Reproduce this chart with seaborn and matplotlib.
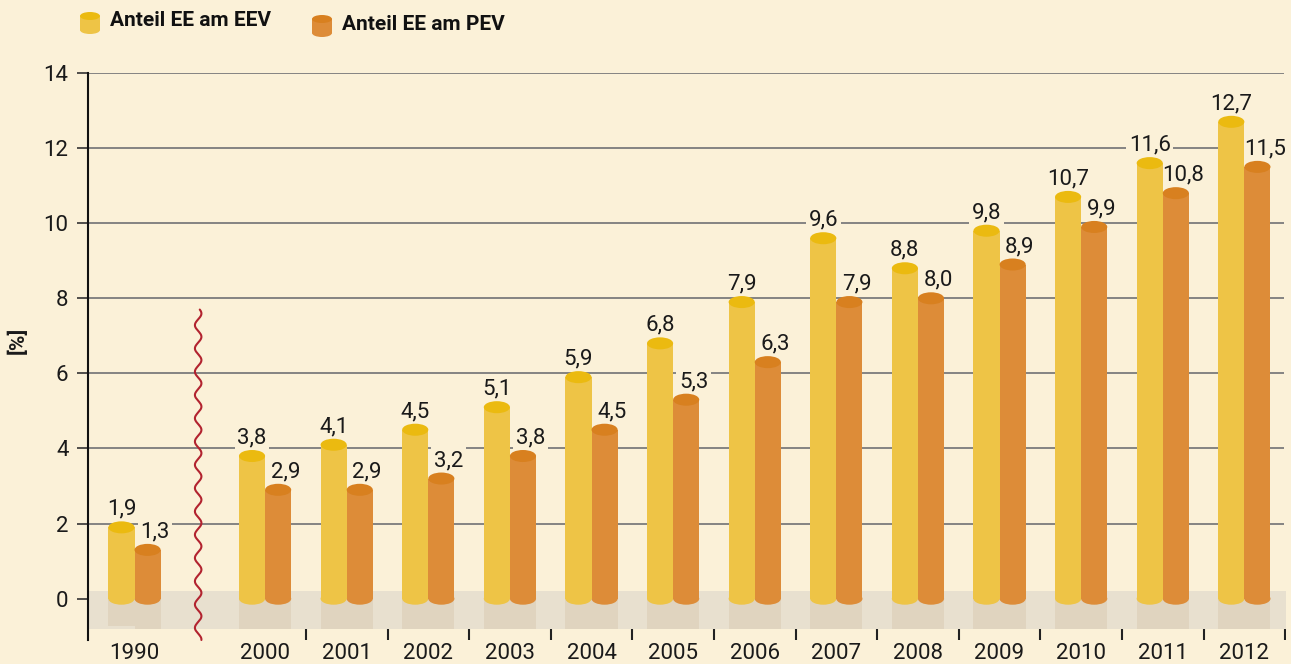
import numpy as np
import pandas as pd
import matplotlib.pyplot as plt
from matplotlib.patches import Ellipse, Rectangle
import seaborn as sns

# data
years = ["1990", "2000", "2001", "2002", "2003", "2004", "2005", "2006",
         "2007", "2008", "2009", "2010", "2011", "2012"]
anteil_eev = [1.9, 3.8, 4.1, 4.5, 5.1, 5.9, 6.8, 7.9, 9.6, 8.8, 9.8, 10.7, 11.6, 12.7]
anteil_pev = [1.3, 2.9, 2.9, 3.2, 3.8, 4.5, 5.3, 6.3, 7.9, 8.0, 8.9, 9.9, 10.8, 11.5]
series = ["Anteil EE am EEV", "Anteil EE am PEV"]

# colours
bg = "#FBF1D8"
band = "#E8E0CF"
shadow = "#E0D4BF"
body_cols = ["#EEC446", "#DD8C38"]
top_cols = ["#EBBA10", "#D8801F"]

# 1990 sits left of the axis break, the rest are one slot apart
pos = [-1.6 if y == "1990" else int(y) - 2000 for y in years]

df = pd.DataFrame({
    "pos": pos * 2,
    "wert": anteil_eev + anteil_pev,
    "reihe": [series[0]] * len(years) + [series[1]] * len(years),
})

sns.set_theme(style="white")
plt.rcParams["font.family"] = ["DejaVu Sans Condensed", "Roboto", "DejaVu Sans"]

fig = plt.figure(figsize=(12.91, 6.64), dpi=100, facecolor=bg)
ax = fig.add_axes([88 / 1291, 24 / 664, (1286 - 88) / 1291, (640 - 73) / 664])
ax.set_facecolor(bg)

x0, x1 = -2.17, 12.51
y0, y1 = -1.1, 14

sns.barplot(data=df, x="pos", y="wert", hue="reihe", native_scale=True,
            palette=body_cols, saturation=1, width=0.64, legend=False,
            errorbar=None, linewidth=0, ax=ax, zorder=3)

ax.set_xlim(x0, x1)
ax.set_ylim(y0, y1)

# grey floor band
ax.add_patch(Rectangle((x0, -0.8), x1 - x0, 1.0, color=band, zorder=1, lw=0))

# grid lines
ax.hlines(range(2, 15, 2), x0, x1 - 0.02, color="#7b7b7b", lw=1.3, zorder=0.5)

# turn the flat bars into cylinders
eh = 0.32
for i, cont in enumerate(ax.containers):
    for rect in cont:
        x = rect.get_x()
        w = rect.get_width()
        h = rect.get_height()
        cx = x + w / 2
        bottom = -0.72 if (i == 0 and cx < -1) else -0.8
        ax.add_patch(Rectangle((x, bottom), w, 0.2 - bottom, color=shadow, zorder=1.5, lw=0))
        ax.add_patch(Ellipse((cx, 0), w, eh, color=body_cols[i], zorder=2.9, lw=0))
        ax.add_patch(Ellipse((cx, h), w, eh, color=top_cols[i], zorder=4, lw=0))
        tx = cx + (0.09 if i == 1 else 0)
        lab = f"{h:.1f}".replace(".", ",")
        # background patch only hides the grid line, text sits on top
        ax.text(tx, h + 0.2, lab, ha="center", va="bottom", fontsize=16,
                color=bg, zorder=0.8,
                bbox=dict(facecolor=bg, edgecolor="none", pad=2))
        ax.text(tx, h + 0.2, lab, ha="center", va="bottom", fontsize=16,
                color="#1a1a1a", zorder=6)

# axis break
wy = np.linspace(y0, 7.7, 600)
ax.plot(-0.82 + 0.04 * np.sin(wy / 0.62 * 2 * np.pi), wy, color="#B2232F",
        lw=1.5, zorder=5, clip_on=False)

# small separators under the categories
ax.vlines([k + 0.5 for k in range(13)], y0, -0.82, color="#222222", lw=1.5, zorder=5)

for s in ["top", "right", "bottom"]:
    ax.spines[s].set_visible(False)
ax.spines["left"].set_color("#111111")
ax.spines["left"].set_linewidth(1.5)

ax.set_yticks(range(0, 15, 2))
ax.tick_params(axis="y", length=8, width=1.2, color="#333333", labelsize=16,
               labelcolor="#1a1a1a", pad=6, left=True)
ax.set_xticks(pos)
ax.set_xticklabels(years)
ax.tick_params(axis="x", length=0, labelsize=16, labelcolor="#1a1a1a", pad=2)
ax.set_xlabel("")
ax.set_ylabel("")

fig.text(18 / 1291, 1 - 340 / 664, "[%]", rotation=90, ha="center", va="center",
         fontsize=15, fontweight="bold", color="#1a1a1a")

# legend with little cylinders
tr = fig.dpi_scale_trans
for i, (lx, ly, lab) in enumerate([(0.90, 6.41, series[0]), (3.22, 6.38, series[1])]):
    fig.patches.append(Rectangle((lx - 0.1, ly - 0.07), 0.2, 0.14, color=body_cols[i],
                                 transform=tr, lw=0, figure=fig))
    fig.patches.append(Ellipse((lx, ly - 0.07), 0.2, 0.08, color=body_cols[i],
                               transform=tr, lw=0, figure=fig))
    fig.patches.append(Ellipse((lx, ly + 0.07), 0.2, 0.08, color=top_cols[i],
                               transform=tr, lw=0, figure=fig))
    fig.text(lx + 0.2, ly + 0.02, lab, transform=tr, ha="left", va="center",
             fontsize=15, fontweight="bold", color="#111111")

plt.savefig("out.png", dpi=100, facecolor=bg)
